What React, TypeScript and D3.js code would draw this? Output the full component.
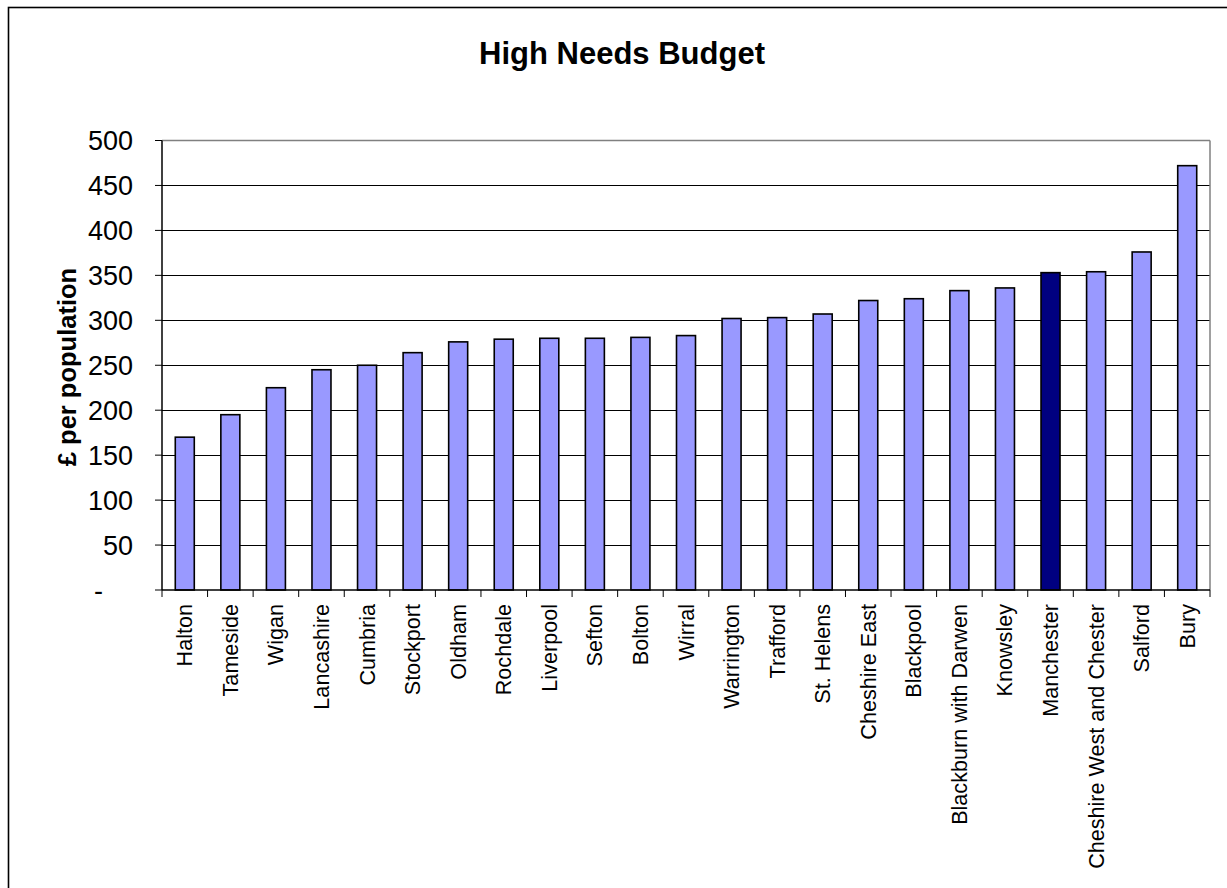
import React from "react";
import * as d3 from "d3";

const categories = [
  "Halton", "Tameside", "Wigan", "Lancashire", "Cumbria", "Stockport", "Oldham",
  "Rochdale", "Liverpool", "Sefton", "Bolton", "Wirral", "Warrington", "Trafford",
  "St. Helens", "Cheshire East", "Blackpool", "Blackburn with Darwen", "Knowsley",
  "Manchester", "Cheshire West and Chester", "Salford", "Bury",
];
const values = [
  170, 195, 225, 245, 250, 264, 276, 279, 280, 280, 281, 283, 302, 303, 307, 322,
  324, 333, 336, 353, 354, 376, 472,
];
const highlighted = ["Manchester"];
const yTicks = [0, 50, 100, 150, 200, 250, 300, 350, 400, 450, 500];
const title = "High Needs Budget";
const yTitle = "£ per population";

const W = 1227;
const H = 888;
const left = 162;
const right = 1210;
const top = 140.5;
const bottom = 590;

export default function App() {
  const pad = 0.583;
  const x = d3.scaleBand<string>().domain(categories).range([left, right]).paddingInner(pad).paddingOuter(pad / 2);
  const y = d3.scaleLinear().domain([0, 500]).range([bottom, top]);
  const step = x.step();
  const font = "Arial, 'Liberation Sans', Helvetica, sans-serif";

  const boundaries = d3.range(categories.length + 1).map((i) => left + i * step);

  return (
    <svg width={W} height={H} style={{ position: "absolute", left: 0, top: 0 }} fontFamily={font}>
      <rect x={0} y={0} width={W} height={H} fill="#fff" />
      <rect x={8.5} y={7.5} width={1400} height={1000} fill="#fff" stroke="#000" strokeWidth={1.6} />
      <text x={622} y={64} textAnchor="middle" fontSize={31} fontWeight="bold">{title}</text>
      <text transform={`translate(76, 367) rotate(-90)`} textAnchor="middle" fontSize={25.5} fontWeight="bold">{yTitle}</text>

      {/* gridlines */}
      {yTicks.filter((t) => t > 0 && t < 500).map((t) => (
        <line key={t} x1={left} x2={right} y1={Math.round(y(t)) + 0.5} y2={Math.round(y(t)) + 0.5} stroke="#000" strokeWidth={1} />
      ))}
      {/* plot border top/right gray */}
      <line x1={left} x2={right} y1={top} y2={top} stroke="#808080" strokeWidth={1.5} />
      <line x1={right} x2={right} y1={top} y2={bottom} stroke="#808080" strokeWidth={1.5} />

      {/* bars */}
      {categories.map((c, i) => (
        <rect
          key={c}
          x={x(c)}
          y={y(values[i])}
          width={x.bandwidth()}
          height={bottom - y(values[i])}
          fill={highlighted.includes(c) ? "#000080" : "#9999FF"}
          stroke="#000"
          strokeWidth={1.6}
        />
      ))}

      {/* y axis */}
      <line x1={left} x2={left} y1={top} y2={bottom} stroke="#000" strokeWidth={1.5} />
      {yTicks.map((t) => (
        <g key={t}>
          <line x1={155} x2={left} y1={y(t)} y2={y(t)} stroke="#000" strokeWidth={1} />
          <text x={t === 0 ? 103 : 133} y={y(t)} dy="0.36em" textAnchor="end" fontSize={27}>
            {t === 0 ? "-" : t}
          </text>
        </g>
      ))}

      {/* x axis */}
      <line x1={left} x2={right} y1={bottom} y2={bottom} stroke="#000" strokeWidth={1.5} />
      {boundaries.map((b, i) => (
        <line key={i} x1={b} x2={b} y1={bottom} y2={597} stroke="#000" strokeWidth={1} />
      ))}
      {categories.map((c) => {
        const cx = (x(c) as number) + x.bandwidth() / 2;
        return (
          <text key={c} transform={`translate(${cx + 7.5}, 604) rotate(-90)`} textAnchor="end" fontSize={21.6}>
            {c}
          </text>
        );
      })}
    </svg>
  );
}
